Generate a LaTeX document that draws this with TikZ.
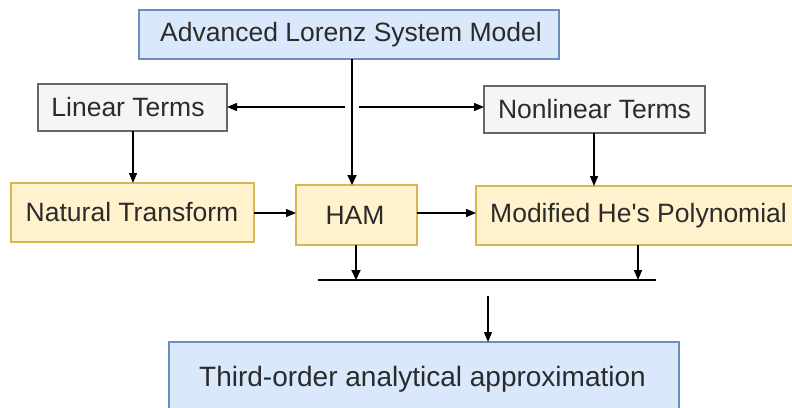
\documentclass[tikz,border=0pt]{standalone}
\usepackage{fontspec}
\setmainfont{Liberation Sans}
\usetikzlibrary{arrows.meta}
\definecolor{bfill}{HTML}{DAE8FC}
\definecolor{bline}{HTML}{6C8EBF}
\definecolor{yfill}{HTML}{FFF2CC}
\definecolor{yline}{HTML}{D6B656}
\definecolor{gfill}{HTML}{F5F5F5}
\definecolor{gline}{HTML}{666666}
\definecolor{txt}{HTML}{2B2B2B}
\tikzset{
  box/.style={draw, line width=1.6pt},
  bluebox/.style={box, fill=bfill, draw=bline},
  yellowbox/.style={box, fill=yfill, draw=yline},
  graybox/.style={box, fill=gfill, draw=gline},
  lbl/.style={text=txt, inner sep=0pt, font=\fontsize{26.5}{31}\selectfont},
  conn/.style={line width=1.2pt, -{Triangle[length=10pt,width=8pt]}},
  thick conn/.style={line width=2pt, -{Triangle[length=10pt,width=9pt]}},
  bar/.style={line width=2.2pt}
}
\begin{document}
\begin{tikzpicture}[x=1pt,y=-1pt]
\useasboundingbox (0,0) rectangle (792,407);
% boxes
\draw[bluebox] (139,10) rectangle (559,59);
\node[lbl] (top) at (351,35) {Advanced Lorenz System Model};
\coordinate (topS) at (352,59);

\draw[graybox] (38,84) rectangle (227,131);
\node[lbl] (lin) at (128,107) {Linear Terms};
\coordinate (linE) at (227,107);
\coordinate (linS) at (133,131);

\draw[graybox] (484,86) rectangle (705,133);
\node[lbl] (nonlin) at (594.5,109.5) {Nonlinear Terms};
\coordinate (nonW) at (484,107);
\coordinate (nonS) at (594,133);

\draw[yellowbox] (11,183) rectangle (254,242);
\node[lbl] (nat) at (132,212.5) {Natural Transform};
\coordinate (natN) at (133,183);
\coordinate (natE) at (254,213);

\draw[yellowbox] (296,185) rectangle (417,245);
\node[lbl] (ham) at (355,215) {HAM};
\coordinate (hamN) at (352,185);
\coordinate (hamW) at (296,213);
\coordinate (hamE) at (417,213);
\coordinate (hamS) at (356,245);

\draw[yellowbox] (476,186) rectangle (800,245);
\node[lbl, anchor=west] (mhp) at (490,215.5) {Modified He\textquotesingle s Polynomial};
\coordinate (mhpW) at (476,213);
\coordinate (mhpN) at (594,186);
\coordinate (mhpS) at (638,245);

\draw[bluebox] (169,342) rectangle (679,420);
\node[lbl, font=\fontsize{28}{33}\selectfont] (third) at (422.5,379) {Third-order analytical approximation};
\coordinate (thirdN) at (488,342);

% junction points
\coordinate (ls) at (345,107);
\coordinate (rs) at (359,107);
\coordinate (barL) at (318,280);
\coordinate (barR) at (656,280);
\coordinate (hamB) at (356,280);
\coordinate (mhpB) at (638,280);
\coordinate (outS) at (488,296);

% connectors
\draw[thick conn] (topS) -- (hamN);
\draw[conn] (ls) -- (linE);
\draw[conn] (rs) -- (nonW);
\draw[conn] (linS) -- (natN);
\draw[conn] (nonS) -- (mhpN);
\draw[conn] (natE) -- (hamW);
\draw[conn] (hamE) -- (mhpW);
\draw[thick conn] (hamS) -- (hamB);
\draw[conn] (mhpS) -- (mhpB);
\draw[bar] (barL) -- (barR);
\draw[conn] (outS) -- (thirdN);
\end{tikzpicture}
\end{document}
